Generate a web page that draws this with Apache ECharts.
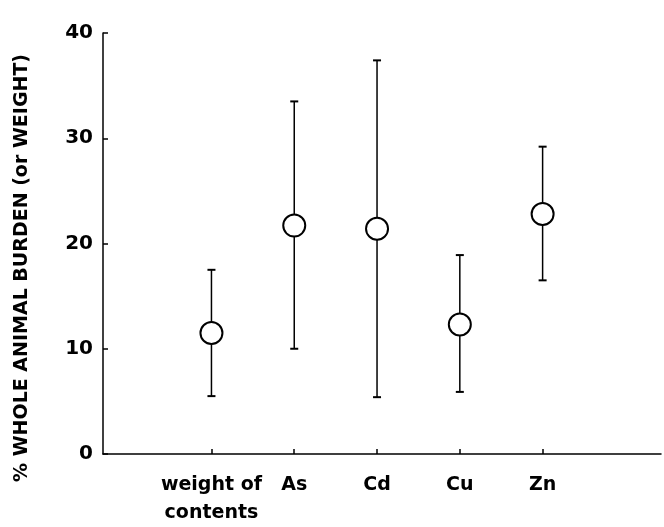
<!DOCTYPE html>
<html>
<head>
<meta charset="utf-8">
<script src="https://cdn.jsdelivr.net/npm/echarts@6/dist/echarts.min.js"></script>
<style>
html,body{margin:0;padding:0;background:#fff;}
#chart{width:664px;height:527px;}
</style>
</head>
<body>
<div id="chart"></div>
<script>
var categories = ['weight of\ncontents', 'As', 'Cd', 'Cu', 'Zn'];
var means = [11.5, 21.7, 21.4, 12.3, 22.8];
var upper = [17.5, 33.5, 37.4, 18.9, 29.2];
var lower = [5.5, 10.0, 5.4, 5.9, 16.5];
var yTicks = [0, 10, 20, 30, 40];
var yTitle = '% WHOLE ANIMAL BURDEN (or WEIGHT)';

var chart = echarts.init(document.getElementById('chart'));
var font = 'DejaVu Sans';
var pos = categories.map(function (c, i) { return i + 1; });
var pts = means.map(function (m, i) { return [pos[i], m]; });
var bars = means.map(function (m, i) { return [pos[i], lower[i], upper[i], m]; });

chart.setOption({
  animation: false,
  backgroundColor: '#fff',
  grid: { left: 103, right: 3, top: 33, bottom: 65, containLabel: false },
  graphic: [{
    type: 'text', x: 22, y: 268, rotation: Math.PI / 2,
    style: { text: yTitle, fill: '#000', font: 'bold 19px "DejaVu Sans"', align: 'center', verticalAlign: 'middle' }
  }],
  xAxis: {
    type: 'value', min: -0.31, max: 6.43,
    splitLine: { show: false },
    axisLine: { onZero: false, lineStyle: { color: '#000', width: 1.5 } },
    axisTick: { inside: true, length: 5, customValues: pos, lineStyle: { color: '#000', width: 1.5 } },
    axisLabel: {
      customValues: pos,
      color: '#000', fontFamily: font, fontWeight: 'bold', fontSize: 19, margin: 17, lineHeight: 28,
      formatter: function (v) { var i = Math.round(v) - 1; return (i >= 0 && i < categories.length) ? categories[i] : ''; }
    }
  },
  yAxis: {
    type: 'value', min: yTicks[0], max: yTicks[yTicks.length - 1], interval: 10,
    splitLine: { show: false },
    axisLine: { show: true, onZero: false, lineStyle: { color: '#000', width: 1.5 } },
    axisTick: { inside: true, length: 5, lineStyle: { color: '#000', width: 1.5 } },
    axisLabel: { color: '#000', fontFamily: font, fontWeight: 'bold', fontSize: 20, margin: 10 }
  },
  series: [
    {
      type: 'custom',
      data: bars,
      renderItem: function (params, api) {
        var x = api.value(0);
        var lo = api.coord([x, api.value(1)]);
        var hi = api.coord([x, api.value(2)]);
        var w = 4;
        var st = { stroke: '#000', lineWidth: 1.5 };
        return {
          type: 'group',
          children: [
            { type: 'line', shape: { x1: lo[0], y1: lo[1], x2: hi[0], y2: hi[1] }, style: st },
            { type: 'line', shape: { x1: lo[0] - w, y1: lo[1], x2: lo[0] + w, y2: lo[1] }, style: { stroke: '#000', lineWidth: 2 } },
            { type: 'line', shape: { x1: hi[0] - w, y1: hi[1], x2: hi[0] + w, y2: hi[1] }, style: { stroke: '#000', lineWidth: 2 } }
          ]
        };
      },
      z: 2
    },
    {
      type: 'scatter',
      data: pts,
      symbol: 'circle',
      symbolSize: 22,
      itemStyle: { color: '#fff', borderColor: '#000', borderWidth: 2, opacity: 1 },
      z: 3
    }
  ]
});
</script>
</body>
</html>
